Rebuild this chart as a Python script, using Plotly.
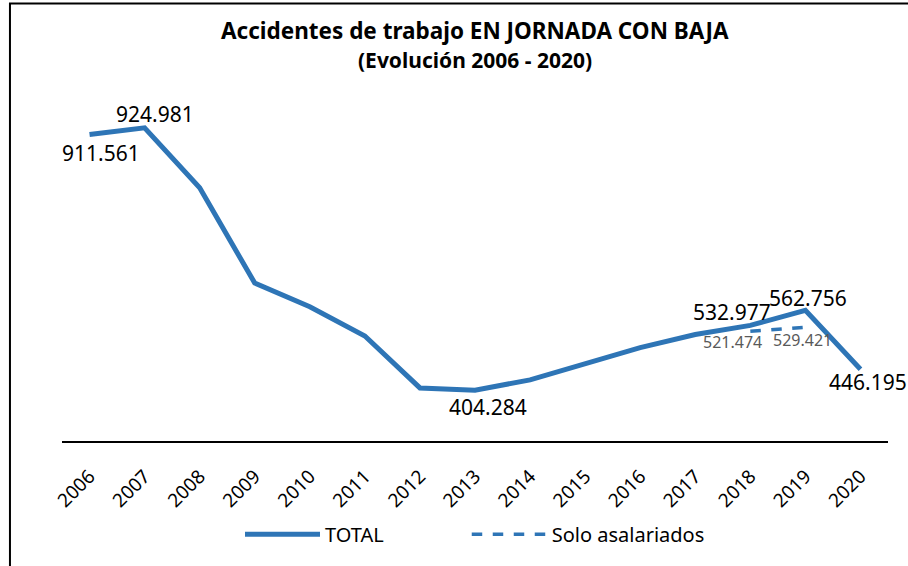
import plotly.graph_objects as go

years = list(range(2006, 2021))
total = [911561, 924981, 806000, 617000, 570000, 512000, 409000, 404284,
         425000, 458000, 489000, 515000, 532977, 562756, 446195]
asal_years = [2018, 2019]
asalariados = [521474, 529421]

total_labeled = [2006, 2007, 2013, 2018, 2019, 2020]

BLUE = "#2E75B6"
FONT = "Noto Sans"

# label offsets (px) keyed by year
total_off = {2006: (11, -18), 2007: (10, 14), 2013: (13, -17),
             2018: (-18, 13), 2019: (3, 12), 2020: (8, -13)}
asal_off = {2018: (-18, -11), 2019: (-3, -13)}


def fmt(v):
    return f"{v:,}".replace(",", ".")


fig = go.Figure()
fig.add_trace(go.Scatter(x=years, y=total, mode="lines",
                         name="TOTAL" + "\u00a0" * 15,
                         line=dict(color=BLUE, width=5)))
fig.add_trace(go.Scatter(x=asal_years, y=asalariados, mode="lines",
                         name="Solo asalariados",
                         line=dict(color=BLUE, width=3.5, dash="dash")))

ann = []
for yr, v in zip(years, total):
    if yr in total_labeled:
        dx, dy = total_off[yr]
        ann.append(dict(x=yr, y=v, xref="x", yref="y", text=fmt(v),
                        showarrow=False, xshift=dx, yshift=dy,
                        font=dict(family=FONT, size=21, color="#000000")))
for yr, v in zip(asal_years, asalariados):
    dx, dy = asal_off[yr]
    ann.append(dict(x=yr, y=v, xref="x", yref="y", text=fmt(v),
                    showarrow=False, xshift=dx, yshift=dy,
                    font=dict(family=FONT, size=16, color="#595959")))

ann.append(dict(x=0.5, y=1.17, xref="paper", yref="paper", xanchor="center",
                yanchor="middle", showarrow=False,
                text="<b>Accidentes de trabajo EN JORNADA CON BAJA</b>",
                font=dict(family=FONT, size=22.5, color="#000000")))
ann.append(dict(x=0.5, y=1.085, xref="paper", yref="paper", xanchor="center",
                yanchor="middle", showarrow=False,
                text="<b>(Evolución 2006 - 2020)</b>",
                font=dict(family=FONT, size=21, color="#000000")))

fig.update_layout(
    width=908, height=566,
    margin=dict(l=62, r=20, t=90, b=123),
    paper_bgcolor="white", plot_bgcolor="white",
    annotations=ann,
    showlegend=True,
    legend=dict(orientation="h", x=0.5, xanchor="center", y=-0.266,
                yanchor="middle", itemwidth=75,
                font=dict(family=FONT, size=20, color="#000000"),
                traceorder="normal"),
    shapes=[dict(type="rect", xref="paper", yref="paper",
                 x0=-0.063, x1=1.05, y0=-0.4, y1=1.2465,
                 line=dict(color="black", width=2), layer="below")],
)
fig.update_xaxes(range=[2005.5, 2020.5], tickmode="array", tickvals=years,
                 ticktext=[str(y) for y in years], tickangle=-45,
                 showgrid=False, zeroline=False, showline=True,
                 linecolor="black", linewidth=1.5, ticks="",
                 ticklabelstandoff=15,
                 tickfont=dict(family=FONT, size=19, color="#000000"))
fig.update_yaxes(range=[303700, 1000000], visible=False, showgrid=False)

fig.write_html("out.html", config={"displayModeBar": False})
with open("out.html", encoding="utf-8") as f:
    html = f.read()
html = html.replace("<body>", "<body style=\"margin:0;padding:0;overflow:hidden\">", 1)
with open("out.html", "w", encoding="utf-8") as f:
    f.write(html)
